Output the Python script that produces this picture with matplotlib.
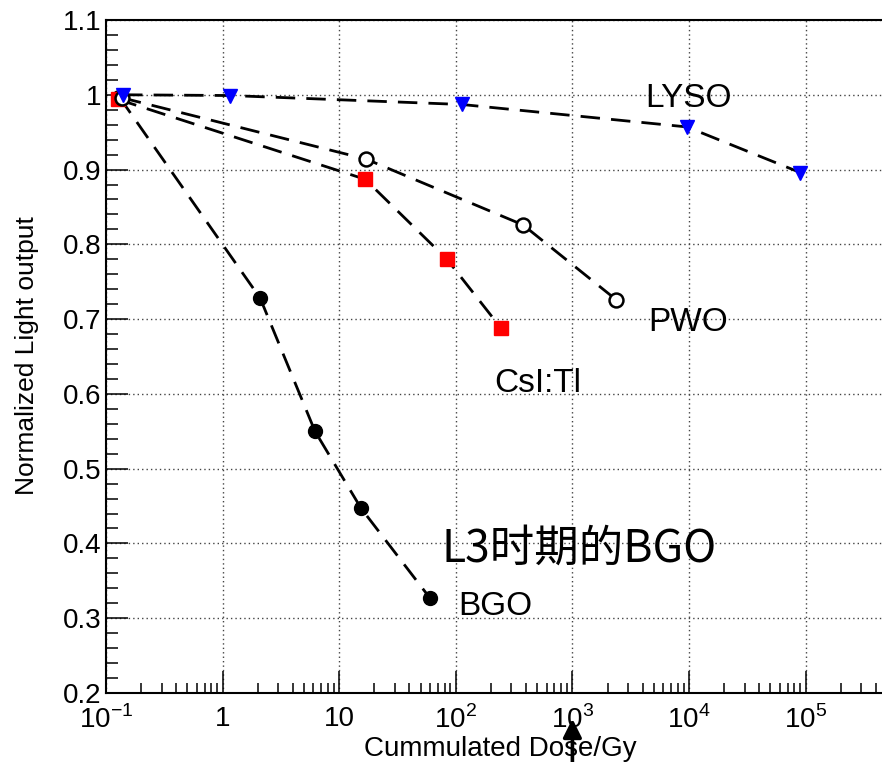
import numpy as np
import matplotlib.pyplot as plt
from matplotlib.ticker import FixedLocator, LogLocator, MultipleLocator, NullFormatter

plt.rcParams['font.family'] = ['Liberation Sans', 'Noto Sans CJK SC', 'DejaVu Sans']
plt.rcParams['mathtext.fontset'] = 'custom'
plt.rcParams['mathtext.rm'] = 'Liberation Sans'

# dose (Gy) vs normalized light output, one series per crystal
lyso_dose = [0.14, 1.16, 113, 9600, 9.0e4]
lyso_lo = [1.0, 0.999, 0.987, 0.957, 0.896]
pwo_dose = [0.137, 17, 377, 2370]
pwo_lo = [0.996, 0.914, 0.826, 0.726]
csi_dose = [0.126, 16.7, 84, 244]
csi_lo = [0.994, 0.887, 0.780, 0.688]
bgo_dose = [0.13, 2.1, 6.2, 15.4, 60]
bgo_lo = [0.997, 0.728, 0.550, 0.447, 0.327]

x_ticks = [0.1, 1, 10, 1e2, 1e3, 1e4, 1e5]
x_labels = ['$10^{-1}$', '1', '10', '$10^{2}$', '$10^{3}$', '$10^{4}$', '$10^{5}$']
y_ticks = [0.2, 0.3, 0.4, 0.5, 0.6, 0.7, 0.8, 0.9, 1.0, 1.1]
y_labels = ['0.2', '0.3', '0.4', '0.5', '0.6', '0.7', '0.8', '0.9', '1', '1.1']

W, H = 882, 762
fig = plt.figure(figsize=(W / 100, H / 100), dpi=100)
left, bottom, top = 106, 693, 20
right = 106 + 6.9 * 116.6   # runs past the right edge of the figure
ax = fig.add_axes([left / W, 1 - bottom / H, (right - left) / W, (bottom - top) / H])

ax.set_xscale('log')
ax.set_xlim(0.1, 10 ** 5.9)
ax.set_ylim(0.2, 1.1)

dash = dict(color='black', lw=2.0, dashes=(7, 4))
ax.plot(bgo_dose, bgo_lo, marker='o', ms=10, mfc='black', mec='black', **dash)
ax.plot(csi_dose, csi_lo, marker='s', ms=10, mfc='red', mec='red', **dash)
ax.plot(pwo_dose, pwo_lo, marker='o', ms=10, mfc='white', mec='black', mew=1.8, **dash)
ax.plot(lyso_dose, lyso_lo, marker='v', ms=10, mfc='blue', mec='blue', **dash)

ax.xaxis.set_major_locator(FixedLocator(x_ticks))
ax.set_xticklabels(x_labels)
ax.xaxis.set_minor_locator(LogLocator(base=10, subs=np.arange(2, 10), numticks=20))
ax.xaxis.set_minor_formatter(NullFormatter())
ax.yaxis.set_major_locator(FixedLocator(y_ticks))
ax.set_yticklabels(y_labels)
ax.yaxis.set_minor_locator(MultipleLocator(0.02))

ax.tick_params(which='both', direction='in', top=False, right=False, width=1.1, colors='black')
ax.tick_params(axis='x', which='major', length=16, pad=9, labelsize=20)
ax.tick_params(axis='x', which='minor', length=7.5)
ax.tick_params(axis='y', which='major', length=16, pad=3, labelsize=20)
ax.tick_params(axis='y', which='minor', length=8.5)
for s in ax.spines.values():
    s.set_linewidth(1.5)

ax.grid(True, which='major', color='#444444', lw=1.0, linestyle=(0, (1, 2.2)))
ax.set_axisbelow(True)

# curve labels
ax.text(1e4, 0.984, 'LYSO', fontsize=24, ha='center', va='baseline')
ax.text(4450, 0.684, 'PWO', fontsize=24, ha='left', va='baseline')
ax.text(213, 0.602, 'CsI:Tl', fontsize=24, ha='left', va='baseline')
ax.text(104, 0.304, 'BGO', fontsize=24, ha='left', va='baseline')
ax.text(76, 0.375, 'L3时期的BGO', fontsize=32, ha='left', va='baseline',
        family=['Noto Sans CJK SC', 'DejaVu Sans'])

# arrow marking 10^3 Gy
ax.annotate('', xy=(1e3, 1 - 716 / H), xycoords=('data', 'figure fraction'),
            xytext=(1e3, -0.01), textcoords=('data', 'figure fraction'),
            arrowprops=dict(arrowstyle='-|>', lw=2.6, color='black', mutation_scale=28),
            annotation_clip=False)

fig.text(27 / W, 1 - 356 / H, 'Normalized Light output', rotation=90,
         fontsize=19, ha='center', va='center')
fig.text(500 / W, 1 - 749 / H, 'Cummulated Dose/Gy', fontsize=20, ha='center', va='center')

fig.savefig('out.png', dpi=100)
